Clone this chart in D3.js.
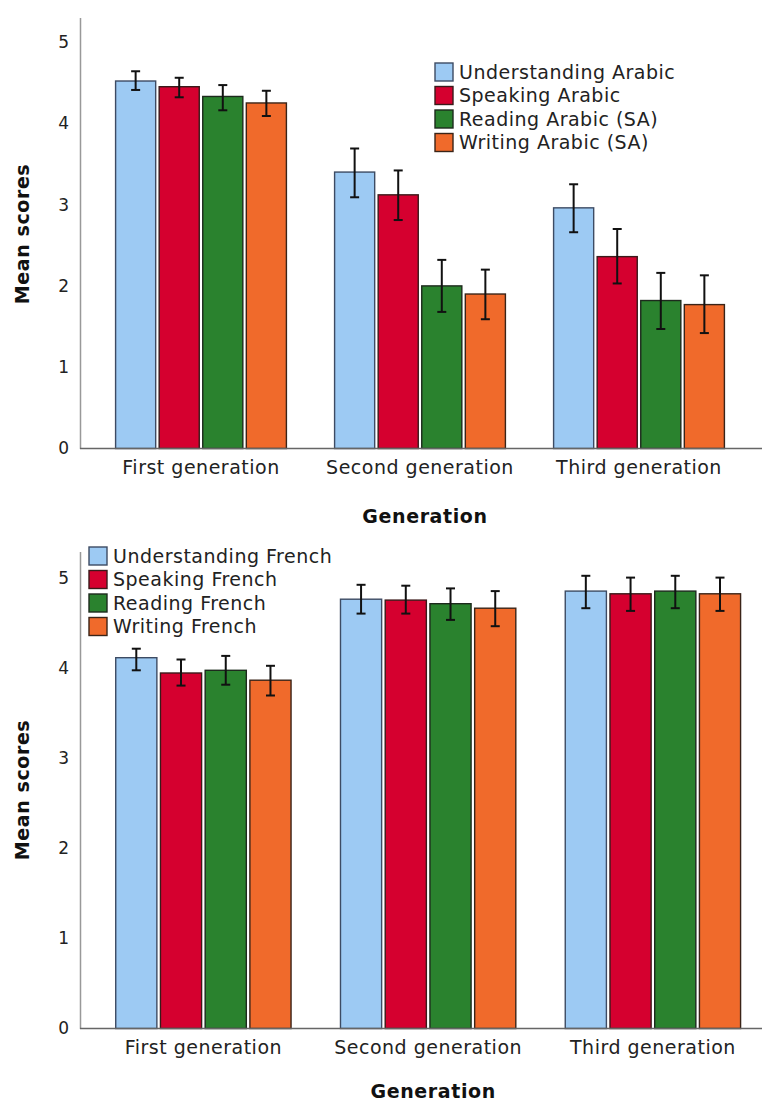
<!DOCTYPE html>
<html>
<head>
<meta charset="utf-8">
<script src="https://cdn.jsdelivr.net/npm/d3@7"></script>
<style>
  body { margin: 0; background: #fff; }
  svg { display: block; font-family: "DejaVu Sans", Verdana, sans-serif; }
</style>
</head>
<body>
<div id="chart"></div>
<script>
// categories
const generations = ["First generation", "Second generation", "Third generation"]
const arabicSeries = ["Understanding Arabic", "Speaking Arabic", "Reading Arabic (SA)", "Writing Arabic (SA)"]
const frenchSeries = ["Understanding French", "Speaking French", "Reading French", "Writing French"]
const colors = ["#9dcaf3", "#d5002f", "#2a822e", "#f06a2b"]
const strokes = ["#3d4b63", "#3a1a1a", "#1d2a1d", "#3a2418"]
const yTicks = [0, 1, 2, 3, 4, 5]

// mean scores, one row per generation
const arabicMeans = [[4.52, 4.45, 4.33, 4.25], [3.40, 3.12, 2.00, 1.90], [2.96, 2.36, 1.82, 1.77]]
const arabicLow   = [[4.41, 4.32, 4.16, 4.09], [3.09, 2.81, 1.68, 1.59], [2.66, 2.03, 1.47, 1.42]]
const arabicHigh  = [[4.64, 4.56, 4.47, 4.40], [3.69, 3.42, 2.32, 2.20], [3.25, 2.70, 2.16, 2.13]]

const frenchMeans = [[4.12, 3.95, 3.98, 3.87], [4.77, 4.76, 4.72, 4.67], [4.86, 4.83, 4.86, 4.83]]
const frenchLow   = [[3.98, 3.81, 3.82, 3.70], [4.61, 4.61, 4.54, 4.47], [4.67, 4.64, 4.67, 4.64]]
const frenchHigh  = [[4.22, 4.10, 4.14, 4.03], [4.93, 4.92, 4.89, 4.86], [5.03, 5.01, 5.03, 5.01]]

const svg = d3.select("#chart").append("svg")
    .attr("width", 764)
    .attr("height", 1104)

function drawChart(cfg) {
    var g = svg.append("g")

    var y = d3.scaleLinear()
        .domain([0, 5.3])
        .range([cfg.yBottom, cfg.yTop])

    var x0 = d3.scaleBand()
        .domain(generations)
        .range(cfg.xRange)
        .paddingInner(0.22)
        .paddingOuter(0.11)

    var x1 = d3.scaleBand()
        .domain(cfg.series)
        .range([0, x0.bandwidth()])
        .paddingInner(0.08)

    // y axis
    var yAxis = g.append("g")
        .attr("transform", "translate(80,0)")
        .call(d3.axisLeft(y).tickValues(yTicks).tickSize(0).tickSizeOuter(0).tickPadding(11).tickFormat(d3.format("d")))
        .attr("font-family", null)
        .attr("font-size", null)
    yAxis.select(".domain").attr("stroke", "#999").attr("stroke-width", 1.5)
    yAxis.selectAll("text")
        .style("font-size", "17px")
        .attr("fill", "#222")

    // bars
    var rows = generations.map((gen, i) => cfg.series.map((s, j) => ({
        gen: gen, s: s, j: j,
        mean: cfg.means[i][j], low: cfg.low[i][j], high: cfg.high[i][j]
    })))

    var groups = g.selectAll(".grp")
        .data(rows)
        .enter()
        .append("g")
        .attr("transform", (d, i) => "translate(" + x0(generations[i]) + ",0)")

    groups.selectAll("rect")
        .data(d => d)
        .enter()
        .append("rect")
        .attr("x", d => x1(d.s))
        .attr("y", d => y(d.mean))
        .attr("width", x1.bandwidth())
        .attr("height", d => y(0) - y(d.mean))
        .attr("fill", d => colors[d.j])
        .attr("stroke", d => strokes[d.j])
        .attr("stroke-width", 1.4)

    // error bars
    var err = groups.selectAll(".err")
        .data(d => d)
        .enter()
        .append("g")
        .attr("stroke", "#111")
        .attr("stroke-width", 2)
    err.append("line")
        .attr("x1", d => x1(d.s) + x1.bandwidth() / 2)
        .attr("x2", d => x1(d.s) + x1.bandwidth() / 2)
        .attr("y1", d => y(d.low))
        .attr("y2", d => y(d.high))
    err.append("line")
        .attr("x1", d => x1(d.s) + x1.bandwidth() / 2 - 4.5)
        .attr("x2", d => x1(d.s) + x1.bandwidth() / 2 + 4.5)
        .attr("y1", d => y(d.high))
        .attr("y2", d => y(d.high))
    err.append("line")
        .attr("x1", d => x1(d.s) + x1.bandwidth() / 2 - 4.5)
        .attr("x2", d => x1(d.s) + x1.bandwidth() / 2 + 4.5)
        .attr("y1", d => y(d.low))
        .attr("y2", d => y(d.low))

    // x axis
    var xAxis = g.append("g")
        .attr("transform", "translate(0," + y(0) + ")")
        .call(d3.axisBottom(x0).tickSize(0).tickPadding(12))
        .attr("font-family", null)
        .attr("font-size", null)
    xAxis.select(".domain").remove()
    xAxis.selectAll("text")
        .style("font-size", "19px")
        .style("letter-spacing", "0.5px")
        .attr("fill", "#222")
    g.append("line")
        .attr("x1", 80).attr("x2", 762)
        .attr("y1", y(0)).attr("y2", y(0))
        .attr("stroke", "#666")
        .attr("stroke-width", 1.5)

    // axis titles
    g.append("text")
        .attr("x", (x0.range()[0] + x0.range()[1]) / 2 + 5)
        .attr("y", y(0) + cfg.xTitleOffset)
        .attr("text-anchor", "middle")
        .style("font-size", "19px")
        .style("font-weight", "bold")
        .style("letter-spacing", "0.6px")
        .attr("fill", "#111")
        .text("Generation")

    g.append("text")
        .attr("transform", "translate(29," + cfg.titleY + ")rotate(-90)")
        .attr("text-anchor", "middle")
        .style("font-size", "19px")
        .style("font-weight", "bold")
        .style("letter-spacing", "0.6px")
        .attr("fill", "#111")
        .text("Mean scores")

    // legend
    var leg = g.selectAll(".leg")
        .data(cfg.series)
        .enter()
        .append("g")
        .attr("transform", (d, i) => "translate(" + cfg.legX + "," + (cfg.legY + i * 23.5) + ")")
    leg.append("rect")
        .attr("x", 0).attr("y", -9)
        .attr("width", 18).attr("height", 18)
        .attr("fill", (d, i) => colors[i])
        .attr("stroke", (d, i) => strokes[i])
        .attr("stroke-width", 1.4)
    leg.append("text")
        .attr("x", 24)
        .attr("dy", "0.35em")
        .style("font-size", "19px")
        .style("letter-spacing", "0.5px")
        .attr("fill", "#222")
        .text(d => d)
}

drawChart({
    series: arabicSeries, means: arabicMeans, low: arabicLow, high: arabicHigh,
    yBottom: 448.5, yTop: 17.6, xRange: [91.5, 748.5],
    titleY: 234, legX: 435, legY: 72, xTitleOffset: 74
})

drawChart({
    series: frenchSeries, means: frenchMeans, low: frenchLow, high: frenchHigh,
    yBottom: 1028.5, yTop: 551.5, xRange: [91, 765.3],
    titleY: 790, legX: 89, legY: 556, xTitleOffset: 69
})
</script>
</body>
</html>
